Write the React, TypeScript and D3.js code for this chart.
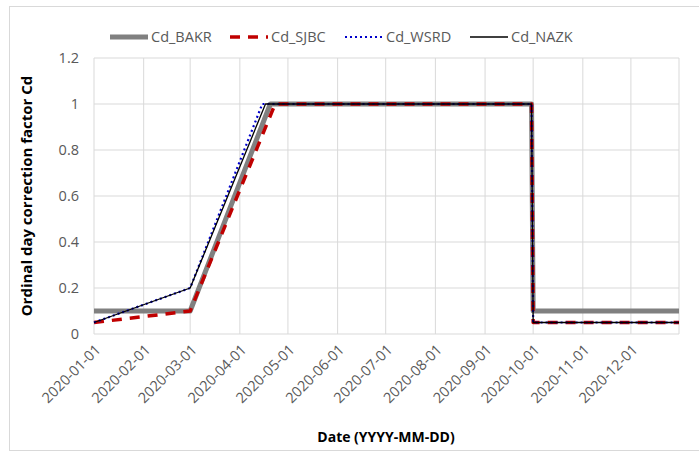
import React, { useRef, useEffect } from 'react'
import * as d3 from 'd3'

const parse = d3.timeParse('%Y-%m-%d')

const monthTicks = ['2020-01-01', '2020-02-01', '2020-03-01', '2020-04-01', '2020-05-01', '2020-06-01',
  '2020-07-01', '2020-08-01', '2020-09-01', '2020-10-01', '2020-11-01', '2020-12-01']
const yTicks = [0, 0.2, 0.4, 0.6, 0.8, 1, 1.2]

const bakrDates = ['2020-01-01', '2020-03-01', '2020-04-20', '2020-09-30', '2020-10-01', '2020-12-31']
const bakrValues = [0.1, 0.1, 1, 1, 0.1, 0.1]

const sjbcDates = ['2020-01-01', '2020-03-01', '2020-04-23', '2020-09-30', '2020-10-01', '2020-12-31']
const sjbcValues = [0.05, 0.1, 1, 1, 0.05, 0.05]

const wsrdDates = ['2020-01-01', '2020-03-01', '2020-04-15', '2020-09-30', '2020-10-01', '2020-12-31']
const wsrdValues = [0.05, 0.2, 1, 1, 0.05, 0.05]

const nazkDates = ['2020-01-01', '2020-03-01', '2020-04-17', '2020-09-30', '2020-10-01', '2020-12-31']
const nazkValues = [0.05, 0.2, 1, 1, 0.05, 0.05]

const series = [
  { name: 'Cd_BAKR', dates: bakrDates, values: bakrValues, color: '#808080', width: 5, dash: null, cap: 'butt' },
  { name: 'Cd_SJBC', dates: sjbcDates, values: sjbcValues, color: '#c00000', width: 3.5, dash: '10,8', cap: 'butt' },
  { name: 'Cd_WSRD', dates: wsrdDates, values: wsrdValues, color: '#0000cc', width: 2.2, dash: '2,3', cap: 'butt' },
  { name: 'Cd_NAZK', dates: nazkDates, values: nazkValues, color: '#000000', width: 1.3, dash: null, cap: 'butt' },
]

const FONT = 'Open Sans, Liberation Sans, sans-serif'

const App = () => {
  const svgRef = useRef<SVGSVGElement>(null)

  const W = 699
  const H = 451
  const margin = { top: 58, right: 20, bottom: 117, left: 94 }
  const width = 679 - margin.left
  const height = 334 - margin.top

  useEffect(() => {
    const svg = d3.select(svgRef.current)
    svg.selectAll('*').remove()

    // outer chart border
    svg.append('rect')
      .attr('x', 9.5).attr('y', 6.5)
      .attr('width', W + 10).attr('height', H - 7)
      .attr('fill', 'white').attr('stroke', '#d9d9d9')

    const x = d3.scaleTime()
      .domain([parse('2020-01-01')!, parse('2020-12-31')!])
      .range([0, width])
    const y = d3.scaleLinear().domain([0, 1.2]).range([height, 0])

    const g = svg.append('g').attr('transform', `translate(${margin.left},${margin.top})`)

    // gridlines
    g.selectAll('.hgrid').data(yTicks).join('line')
      .attr('x1', 0).attr('x2', width)
      .attr('y1', (d) => y(d)).attr('y2', (d) => y(d))
      .attr('stroke', '#d9d9d9').attr('stroke-width', 1)
    g.selectAll('.vgrid').data([...monthTicks.map((m) => parse(m)!), parse('2020-12-31')!]).join('line')
      .attr('x1', (d) => x(d)).attr('x2', (d) => x(d))
      .attr('y1', 0).attr('y2', height)
      .attr('stroke', '#d9d9d9').attr('stroke-width', 1)

    // y tick labels
    g.selectAll('.ylab').data(yTicks).join('text')
      .attr('x', -15).attr('y', (d) => y(d))
      .attr('dy', '0.35em')
      .attr('text-anchor', 'end')
      .attr('font-family', FONT).attr('font-size', 14.5)
      .attr('fill', '#595959')
      .text((d) => d3.format('~g')(d))

    // x tick labels
    g.selectAll('.xlab').data(monthTicks).join('text')
      .attr('transform', (d) => `translate(${x(parse(d)!) + 4},${height + 13}) rotate(-45)`)
      .attr('text-anchor', 'end')
      .attr('dy', '0.35em')
      .attr('font-family', FONT).attr('font-size', 14.5)
      .attr('fill', '#595959')
      .text((d) => d)

    // lines
    series.forEach((s) => {
      const pts = s.dates.map((d, i) => [x(parse(d)!), y(s.values[i])] as [number, number])
      const path = g.append('path')
        .attr('d', d3.line()(pts))
        .attr('fill', 'none')
        .attr('stroke', s.color)
        .attr('stroke-width', s.width)
        .attr('stroke-linejoin', 'round')
      if (s.dash) path.attr('stroke-dasharray', s.dash)
    })

    // legend
    const legendX = [110, 230, 345, 470]
    series.forEach((s, i) => {
      const lg = svg.append('g').attr('transform', `translate(${legendX[i]},37)`)
      const l = lg.append('line')
        .attr('x1', 0).attr('x2', 38).attr('y1', 0).attr('y2', 0)
        .attr('stroke', s.color).attr('stroke-width', s.width)
      if (s.dash) l.attr('stroke-dasharray', s.dash)
      lg.append('text')
        .attr('x', 41).attr('dy', '0.35em')
        .attr('font-family', FONT).attr('font-size', 14.5)
        .attr('fill', '#595959')
        .text(s.name)
    })

    // axis titles
    svg.append('text')
      .attr('x', 386).attr('y', 442)
      .attr('text-anchor', 'middle')
      .attr('font-family', FONT).attr('font-size', 14).attr('font-weight', 'bold')
      .attr('fill', '#000')
      .text('Date (YYYY-MM-DD)')
    svg.append('text')
      .attr('transform', 'translate(32,196) rotate(-90)')
      .attr('text-anchor', 'middle')
      .attr('font-family', FONT).attr('font-size', 15).attr('font-weight', 'bold')
      .attr('fill', '#000')
      .text('Ordinal day correction factor Cd')
  }, [])

  return (
    <svg ref={svgRef} width={W} height={H}
      style={{ position: 'absolute', left: 0, top: 0, background: 'white' }} />
  )
}

export default App
